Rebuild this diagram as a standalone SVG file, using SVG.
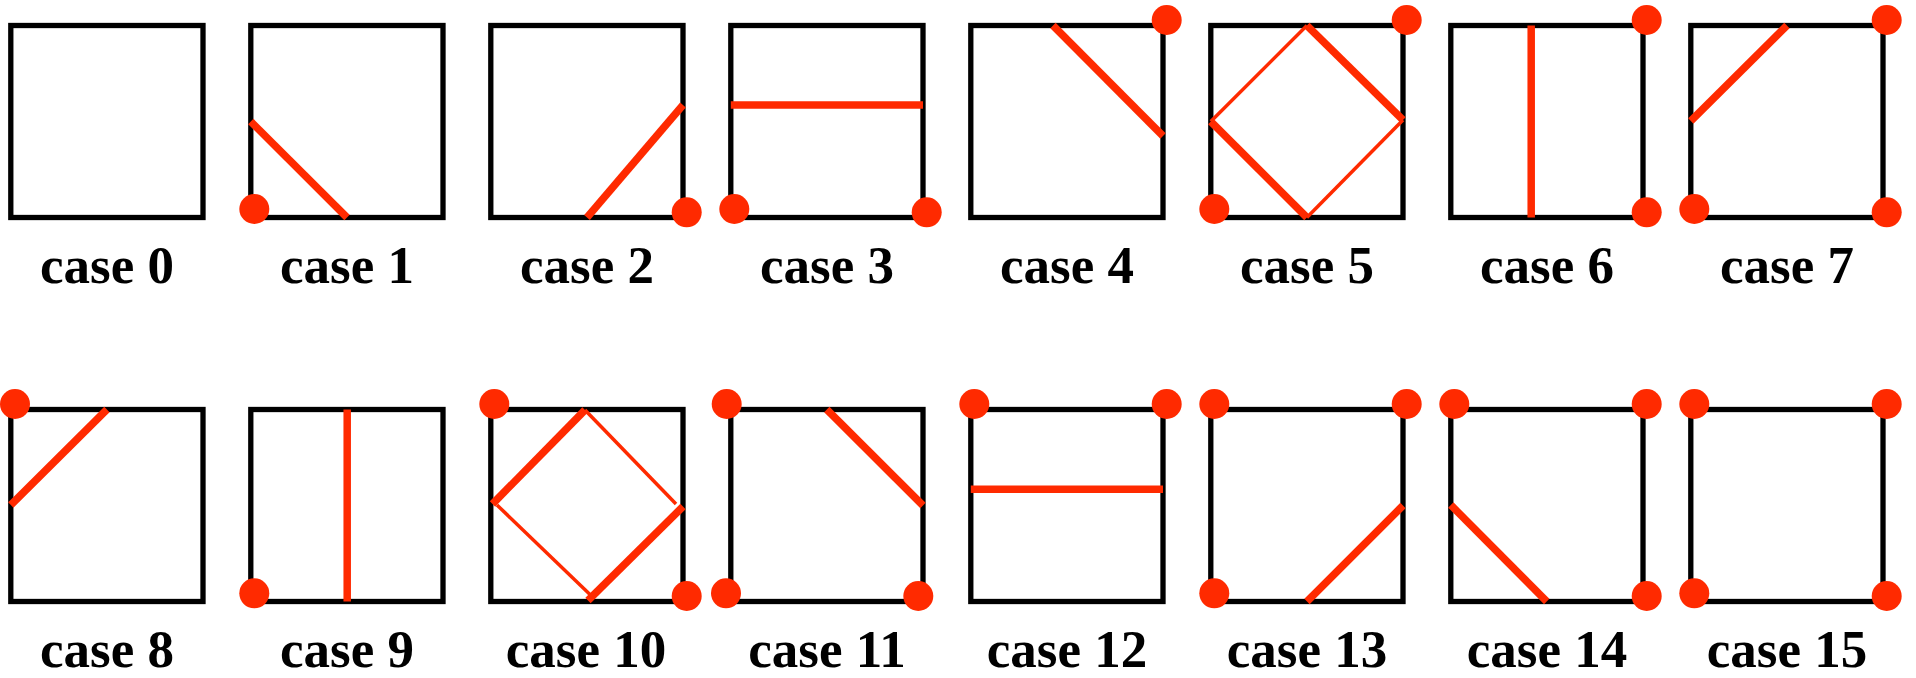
<svg xmlns="http://www.w3.org/2000/svg" width="1916" height="678" viewBox="0 0 1916 678">
<style>
.sq{fill:none;stroke:#000;stroke-width:5.3}
.thk{stroke:#ff2a00;stroke-width:7.5;fill:none}
.thn{stroke:#ff2a00;stroke-width:3.5;fill:none}
.pt{fill:#ff2a00}
.lb{font-family:"Liberation Serif","Times New Roman",serif;font-weight:bold;font-size:53px;text-anchor:middle;fill:#000}
</style>
<rect width="1916" height="678" fill="#fff"/>
<g id="case0"><rect class="sq" x="10.8" y="25.5" width="192.2" height="192"/><text class="lb" x="107" y="283">case 0</text></g>
<g id="case1"><rect class="sq" x="250.8" y="25.5" width="192.2" height="192"/><line class="thk" x1="250.8" y1="121.5" x2="347" y2="217.5"/><circle class="pt" cx="254.3" cy="209" r="15"/><text class="lb" x="347" y="283">case 1</text></g>
<g id="case2"><rect class="sq" x="490.8" y="25.5" width="192.2" height="192"/><line class="thk" x1="587" y1="217.5" x2="683" y2="105"/><circle class="pt" cx="686.7" cy="212.3" r="15"/><text class="lb" x="587" y="283">case 2</text></g>
<g id="case3"><rect class="sq" x="730.8" y="25.5" width="192.2" height="192"/><line class="thk" x1="730.8" y1="105" x2="923" y2="105"/><circle class="pt" cx="734.3" cy="209" r="15"/><circle class="pt" cx="926.7" cy="212.3" r="15"/><text class="lb" x="827" y="283">case 3</text></g>
<g id="case4"><rect class="sq" x="970.8" y="25.5" width="192.2" height="192"/><line class="thk" x1="1053" y1="25.5" x2="1163" y2="136"/><circle class="pt" cx="1166.7" cy="20" r="15"/><text class="lb" x="1067" y="283">case 4</text></g>
<g id="case5"><rect class="sq" x="1210.8" y="25.5" width="192.2" height="192"/><line class="thk" x1="1306.9" y1="25.5" x2="1403" y2="120"/><line class="thk" x1="1210.8" y1="121.5" x2="1306.9" y2="217.5"/><line class="thn" x1="1306.9" y1="25.5" x2="1210.8" y2="121.5"/><line class="thn" x1="1403" y1="120" x2="1306.9" y2="217.5"/><circle class="pt" cx="1406.7" cy="20" r="15"/><circle class="pt" cx="1214.3" cy="209" r="15"/><text class="lb" x="1307" y="283">case 5</text></g>
<g id="case6"><rect class="sq" x="1450.8" y="25.5" width="192.2" height="192"/><line class="thk" x1="1531.2" y1="25.5" x2="1531.2" y2="217.5"/><circle class="pt" cx="1646.7" cy="20" r="15"/><circle class="pt" cx="1646.7" cy="212.3" r="15"/><text class="lb" x="1547" y="283">case 6</text></g>
<g id="case7"><rect class="sq" x="1690.8" y="25.5" width="192.2" height="192"/><line class="thk" x1="1690.8" y1="121" x2="1786.9" y2="25.5"/><circle class="pt" cx="1886.7" cy="20" r="15"/><circle class="pt" cx="1694.3" cy="209" r="15"/><circle class="pt" cx="1886.7" cy="212.3" r="15"/><text class="lb" x="1787" y="283">case 7</text></g>
<g id="case8"><rect class="sq" x="10.8" y="409.5" width="192.2" height="192"/><line class="thk" x1="10.8" y1="505" x2="106.9" y2="409.5"/><circle class="pt" cx="15" cy="404" r="15"/><text class="lb" x="107" y="667">case 8</text></g>
<g id="case9"><rect class="sq" x="250.8" y="409.5" width="192.2" height="192"/><line class="thk" x1="347.2" y1="409.5" x2="347.2" y2="601.5"/><circle class="pt" cx="254.3" cy="593.3" r="15"/><text class="lb" x="347" y="667">case 9</text></g>
<g id="case10"><rect class="sq" x="490.8" y="409.5" width="192.2" height="192"/><line class="thk" x1="492.5" y1="504" x2="585" y2="410"/><line class="thk" x1="683" y1="506.5" x2="588" y2="600.5"/><line class="thn" x1="585" y1="410" x2="676" y2="504"/><line class="thn" x1="497" y1="505" x2="590" y2="594.5"/><circle class="pt" cx="494.3" cy="404" r="15"/><circle class="pt" cx="686.7" cy="596" r="15"/><text class="lb" x="586" y="667">case 10</text></g>
<g id="case11"><rect class="sq" x="730.8" y="409.5" width="192.2" height="192"/><line class="thk" x1="826.8" y1="409.5" x2="923" y2="505.5"/><circle class="pt" cx="726.7" cy="404" r="15"/><circle class="pt" cx="726" cy="593.3" r="15"/><circle class="pt" cx="918.3" cy="596" r="15"/><text class="lb" x="827" y="667">case 11</text></g>
<g id="case12"><rect class="sq" x="970.8" y="409.5" width="192.2" height="192"/><line class="thk" x1="970.8" y1="489.2" x2="1163" y2="489.2"/><circle class="pt" cx="974.3" cy="404" r="15"/><circle class="pt" cx="1166.7" cy="404" r="15"/><text class="lb" x="1067" y="667">case 12</text></g>
<g id="case13"><rect class="sq" x="1210.8" y="409.5" width="192.2" height="192"/><line class="thk" x1="1307" y1="601.5" x2="1403" y2="505.5"/><circle class="pt" cx="1214.3" cy="404" r="15"/><circle class="pt" cx="1406.7" cy="404" r="15"/><circle class="pt" cx="1214.3" cy="593.3" r="15"/><text class="lb" x="1307" y="667">case 13</text></g>
<g id="case14"><rect class="sq" x="1450.8" y="409.5" width="192.2" height="192"/><line class="thk" x1="1450.8" y1="505" x2="1546.7" y2="601.5"/><circle class="pt" cx="1454.3" cy="404" r="15"/><circle class="pt" cx="1646.7" cy="404" r="15"/><circle class="pt" cx="1646.7" cy="596" r="15"/><text class="lb" x="1547" y="667">case 14</text></g>
<g id="case15"><rect class="sq" x="1690.8" y="409.5" width="192.2" height="192"/><circle class="pt" cx="1694.3" cy="404" r="15"/><circle class="pt" cx="1886.7" cy="404" r="15"/><circle class="pt" cx="1694.3" cy="593.3" r="15"/><circle class="pt" cx="1886.7" cy="596" r="15"/><text class="lb" x="1787" y="667">case 15</text></g>
<g id="connectors"></g>
</svg>
